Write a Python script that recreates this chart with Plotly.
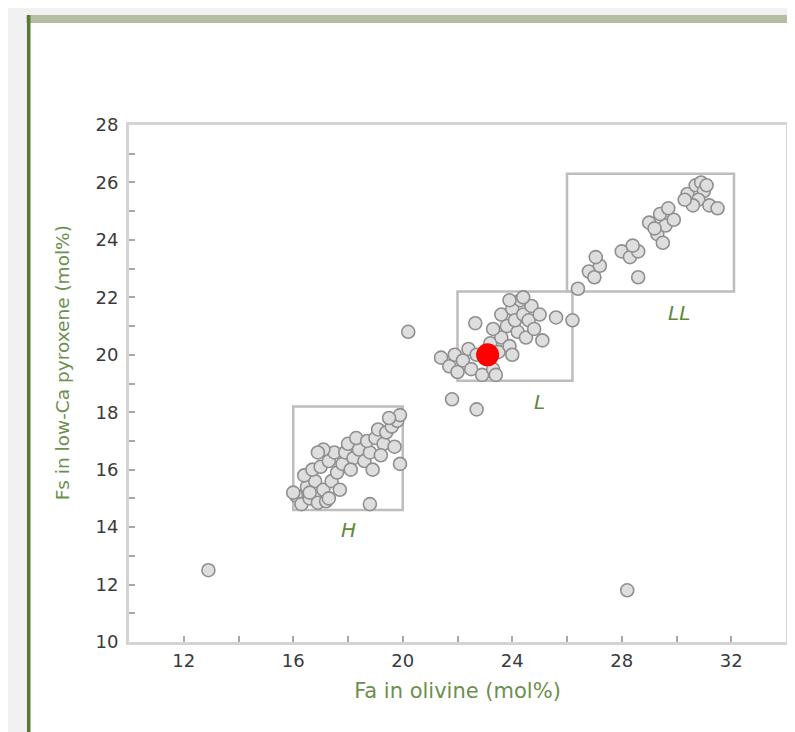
import plotly.graph_objects as go

# ---------------- data ----------------
h_x = [16.1, 16.3, 16.6, 16.9, 17.2, 16.5, 16.8, 17.1, 16.4, 16.7, 17.0, 17.4, 17.6, 17.3, 17.8,
       17.5, 17.9, 18.2, 18.0, 18.4, 18.6, 18.8, 18.3, 18.7, 19.0, 19.3, 19.1, 19.4, 19.6, 19.8,
       19.9, 19.5, 19.7, 19.9, 18.9, 17.1, 16.9, 18.8, 16.0, 17.7, 18.1, 17.3, 19.2, 16.6]
h_y = [15.1, 14.8, 15.0, 14.85, 14.9, 15.4, 15.6, 15.3, 15.8, 16.0, 16.1, 15.6, 15.9, 16.3, 16.2,
       16.6, 16.6, 16.4, 16.9, 16.7, 16.3, 16.6, 17.1, 17.0, 17.1, 16.9, 17.4, 17.3, 17.5, 17.7,
       17.9, 17.8, 16.8, 16.2, 16.0, 16.7, 16.6, 14.8, 15.2, 15.3, 16.0, 15.0, 16.5, 15.2]

l_x = [21.4, 21.7, 21.9, 22.0, 22.2, 22.4, 22.5, 22.7, 22.9, 23.3, 23.2, 23.5, 23.6, 23.3, 23.8,
       23.6, 23.9, 24.0, 24.2, 24.1, 24.3, 24.4, 24.5, 24.6, 24.7, 24.4, 24.8, 25.0, 25.1, 23.9,
       25.6, 26.2, 22.65, 23.4, 24.0]
l_y = [19.9, 19.6, 20.0, 19.4, 19.8, 20.2, 19.5, 20.0, 19.3, 19.5, 20.4, 20.1, 20.6, 20.9, 21.0,
       21.4, 20.3, 21.6, 20.8, 21.2, 21.9, 21.4, 20.6, 21.2, 21.7, 22.0, 20.9, 21.4, 20.5, 21.9,
       21.3, 21.2, 21.1, 19.3, 20.0]

ll_x = [26.4, 26.8, 27.0, 27.2, 27.05, 28.6, 28.0, 28.3, 28.6, 28.4, 29.0, 29.3, 29.6, 29.9, 29.4,
        29.7, 29.2, 29.5, 30.4, 30.7, 30.9, 31.0, 30.8, 31.2, 31.5, 30.6, 31.1, 30.3]
ll_y = [22.3, 22.9, 22.7, 23.1, 23.4, 22.7, 23.6, 23.4, 23.6, 23.8, 24.6, 24.2, 24.5, 24.7, 24.9,
        25.1, 24.4, 23.9, 25.6, 25.9, 26.0, 25.7, 25.4, 25.2, 25.1, 25.2, 25.9, 25.4]

other_x = [12.9, 28.2, 20.2, 21.8, 22.7]
other_y = [12.5, 11.8, 20.8, 18.45, 18.1]

sample_x = [23.1]
sample_y = [20.0]

# group boxes: name, x0, x1, y0, y1, label x, label y
box_names = ["H", "L", "LL"]
box_x0 = [16.0, 22.0, 26.0]
box_x1 = [20.0, 26.2, 32.1]
box_y0 = [14.6, 19.1, 22.2]
box_y1 = [18.2, 22.2, 26.3]
label_x = [18.0, 25.0, 30.1]
label_y = [13.9, 18.35, 21.45]

x_ticks = [12, 16, 20, 24, 28, 32]
y_ticks = [10, 12, 14, 16, 18, 20, 22, 24, 26, 28]

x_title = "Fa in olivine (mol%)"
y_title = "Fs in low-Ca pyroxene (mol%)"

FONT = "DejaVu Sans, Liberation Sans, Arial"

# ---------------- figure ----------------
fig = go.Figure()

all_x = h_x + l_x + ll_x + other_x
all_y = h_y + l_y + ll_y + other_y
fig.add_trace(go.Scatter(
    x=all_x, y=all_y, mode="markers",
    marker=dict(size=13, color="#dedede", line=dict(color="#8f8f8f", width=1.6)),
    showlegend=False, hoverinfo="x+y"))
fig.add_trace(go.Scatter(
    x=sample_x, y=sample_y, mode="markers",
    marker=dict(size=23, color="#ff0000", line=dict(width=0)),
    showlegend=False))

shapes = []
# page offset (body margin) is 8 px; figure sized to fit the window
OFF = 8
W, H = 795 - OFF, 732 - OFF
ml, mr, mt, mb = 121, 6, 117, 90
pw, ph = W - ml - mr, H - mt - mb

def px_x(p):
    return (p - OFF - ml) / pw

def px_y(p):
    return 1 - (p - OFF - mt) / ph

shapes.append(dict(type="rect", xref="paper", yref="paper", layer="below",
                   x0=px_x(28), x1=px_x(810), y0=px_y(20), y1=px_y(750),
                   fillcolor="white", line=dict(width=0)))
shapes.append(dict(type="rect", xref="paper", yref="paper", layer="below",
                   x0=px_x(26), x1=px_x(810), y0=px_y(15), y1=px_y(23),
                   fillcolor="#b3bea3", line=dict(width=0)))
shapes.append(dict(type="rect", xref="paper", yref="paper", layer="below",
                   x0=px_x(26.5), x1=px_x(30), y0=px_y(15), y1=px_y(750),
                   fillcolor="#557a35", line=dict(width=0)))

for i in range(len(box_names)):
    shapes.append(dict(type="rect", xref="x", yref="y",
                       x0=box_x0[i], x1=box_x1[i], y0=box_y0[i], y1=box_y1[i],
                       line=dict(color="#bdbdbd", width=2.5), layer="below"))

annotations = []
for i in range(len(box_names)):
    annotations.append(dict(x=label_x[i], y=label_y[i], xref="x", yref="y",
                            text="<i>" + box_names[i] + "</i>", showarrow=False,
                            font=dict(family=FONT, size=20, color="#5f8a3a")))

# y-axis title placed as rotated text (sits a little above the axis centre in the original)
annotations.append(dict(x=px_x(62), y=px_y(363), xref="paper", yref="paper",
                        text=y_title, textangle=-90, showarrow=False,
                        xanchor="center", yanchor="middle",
                        font=dict(family=FONT, size=18.5, color="#6d8f4e")))

axis_common = dict(
    showgrid=False, zeroline=False, showline=True, linecolor="#d4d4d4", linewidth=3,
    mirror=True, ticks="inside", ticklen=6, tickwidth=1.5, tickcolor="#a8a8a8",
    tickfont=dict(family=FONT, size=18, color="#3a3a3a"),
)

fig.update_layout(
    width=W, height=H,
    margin=dict(l=ml, r=mr, t=mt, b=mb),
    paper_bgcolor="#f1f1f1", plot_bgcolor="white",
    shapes=shapes, annotations=annotations,
    xaxis=dict(axis_common, range=[10, 34], tickvals=x_ticks,
               minor=dict(dtick=2, tick0=10, ticks="inside", ticklen=6, tickcolor="#a8a8a8", tickwidth=1.5),
               title=dict(text=x_title, standoff=14,
                          font=dict(family=FONT, size=21, color="#6d8f4e"))),
    yaxis=dict(axis_common, range=[10, 28], tickvals=y_ticks, ticklabelstandoff=4,
               minor=dict(dtick=1, tick0=10, ticks="inside", ticklen=6, tickcolor="#a8a8a8", tickwidth=1.5)),
)

fig.write_html("out.html")
